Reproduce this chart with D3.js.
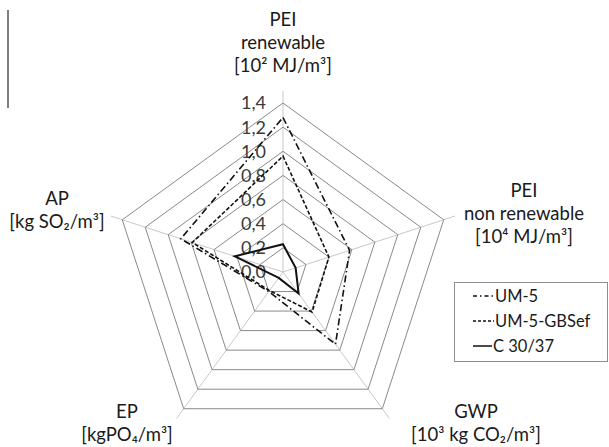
<!DOCTYPE html>
<html>
<head>
<meta charset="utf-8">
<script src="https://cdn.jsdelivr.net/npm/d3@7"></script>
<style>
  body { margin: 0; background: #fff; }
  svg { font-family: Lato, "Open Sans", sans-serif; }
</style>
</head>
<body>
<div id="chart"></div>
<script>
// axes clockwise from the top
const axes = ["PEI renewable", "PEI non renewable", "GWP", "EP", "AP"];
const axisLabels = [
  ["PEI", "renewable", "[10² MJ/m³]"],
  ["PEI", "non renewable", "[10⁴ MJ/m³]"],
  ["GWP", "[10³ kg CO₂/m³]"],
  ["EP", "[kgPO₄/m³]"],
  ["AP", "[kg SO₂/m³]"]
];
const ticks = [0, 0.2, 0.4, 0.6, 0.8, 1.0, 1.2, 1.4];
const tickLabels = ["0,0", "0,2", "0,4", "0,6", "0,8", "1,0", "1,2", "1,4"];

const seriesNames = ["UM-5", "UM-5-GBSef", "C 30/37"];
const um5   = [1.28, 0.58, 0.74, 0.20, 0.89];
const gbsef = [0.96, 0.40, 0.41, 0.19, 0.79];
const c3037 = [0.23, 0.11, 0.22, 0.06, 0.42];

const W = 609, H = 447;
const cx = 283, cy = 272;

const svg = d3.select("#chart").append("svg")
    .attr("width", W)
    .attr("height", H);

const r = d3.scaleLinear().domain([0, 1.4]).range([0, 169]);
const angle = d3.scalePoint().domain(axes).range([0, 2 * Math.PI * 4 / 5]);

function pt(axis, v) {
  const a = angle(axis);
  return [cx + r(v) * Math.sin(a), cy - r(v) * Math.cos(a)];
}

const g = svg.append("g");

// spokes
g.selectAll(".spoke")
  .data(axes)
  .enter().append("line")
    .attr("x1", cx).attr("y1", cy)
    .attr("x2", d => pt(d, 1.5)[0])
    .attr("y2", d => pt(d, 1.5)[1])
    .attr("stroke", "#c8c8c8")
    .attr("stroke-width", 1);

// rings
g.selectAll(".ring")
  .data(ticks.slice(1))
  .enter().append("polygon")
    .attr("points", t => axes.map(a => pt(a, t).join(",")).join(" "))
    .attr("fill", "none")
    .attr("stroke", "#8a8a8a")
    .attr("stroke-width", 1);

// tick labels
g.selectAll(".tick")
  .data(ticks)
  .enter().append("text")
    .attr("x", cx - 17)
    .attr("y", t => cy - r(t))
    .attr("dy", "0.36em")
    .attr("text-anchor", "end")
    .attr("font-size", "18px")
    .attr("fill", "#3a3a3a")
    .text((t, i) => tickLabels[i]);

// series
const series = [
  {name: seriesNames[0], values: um5, dash: "7,3,1.5,3"},
  {name: seriesNames[1], values: gbsef, dash: "4,2"},
  {name: seriesNames[2], values: c3037, dash: null}
];

const line = d3.line().curve(d3.curveLinearClosed);

g.selectAll(".series")
  .data(series)
  .enter().append("path")
    .attr("d", s => line(axes.map((a, i) => pt(a, s.values[i]))))
    .attr("fill", "none")
    .attr("stroke", "#111")
    .attr("stroke-width", s => s.dash ? 1.6 : 2)
    .attr("stroke-dasharray", s => s.dash);

// axis labels
const labelPos = [
  {x: 283, y: 26},
  {x: 524, y: 197},
  {x: 476, y: 418},
  {x: 127, y: 418},
  {x: 57, y: 205}
];
axisLabels.forEach((lines, i) => {
  const t = svg.append("text")
      .attr("x", labelPos[i].x)
      .attr("y", labelPos[i].y)
      .attr("text-anchor", "middle")
      .attr("font-size", "18.5px")
      .attr("fill", "#1a1a1a");
  lines.forEach((s, j) => {
    t.append("tspan")
      .attr("x", labelPos[i].x)
      .attr("dy", j === 0 ? 0 : 23)
      .text(s);
  });
});

// left vertical line
svg.append("line")
    .attr("x1", 8).attr("y1", 10)
    .attr("x2", 8).attr("y2", 108)
    .attr("stroke", "#555")
    .attr("stroke-width", 1.5);

// legend
const lg = svg.append("g");
lg.append("rect")
    .attr("x", 454.5).attr("y", 282.5)
    .attr("width", 153).attr("height", 79)
    .attr("fill", "#fff")
    .attr("stroke", "#8e8e8e");

const leg = lg.selectAll(".leg")
  .data(series)
  .enter().append("g")
    .attr("transform", (d, i) => `translate(473, ${296 + i * 25})`);

leg.append("line")
    .attr("x1", 0).attr("x2", d => d.dash ? 21 : 19)
    .attr("y1", 0).attr("y2", 0)
    .attr("stroke", "#111")
    .attr("stroke-width", 1.5)
    .attr("stroke-dasharray", d => d.name === "UM-5" ? "4,3,1.5,3" : (d.dash ? "3,2" : null));

leg.append("text")
    .attr("x", d => d.dash ? 22 : 20)
    .attr("y", 0)
    .attr("dy", "0.36em")
    .attr("font-size", "16.5px")
    .attr("fill", "#1a1a1a")
    .text(d => d.name);
</script>
</body>
</html>
